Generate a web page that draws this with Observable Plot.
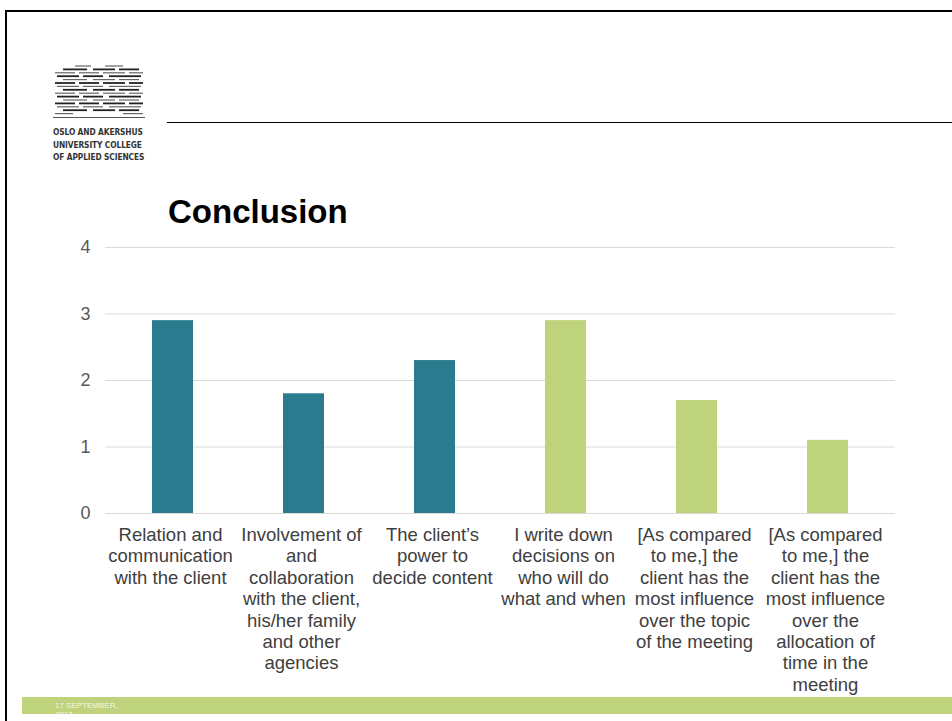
<!DOCTYPE html>
<html>
<head>
<meta charset="utf-8">
<script src="https://cdn.jsdelivr.net/npm/d3@7"></script>
<script src="https://cdn.jsdelivr.net/npm/@observablehq/plot@0.6"></script>
<style>
  html, body { margin: 0; padding: 0; background: #fff; }
  #slide { position: relative; width: 952px; height: 721px; overflow: hidden; background: #fff; font-family: "Liberation Sans", Arial, sans-serif; }
  #topline { position: absolute; left: 5px; top: 10px; width: 947px; height: 2px; background: #000; }
  #leftline { position: absolute; left: 5px; top: 10px; width: 2px; height: 711px; background: #000; }
  #rule { position: absolute; left: 167px; top: 122px; width: 785px; height: 1px; background: #000; }
  #title { position: absolute; left: 168px; top: 192px; font-size: 33px; font-weight: bold; color: #000; line-height: 40px; }
  #logo { position: absolute; left: 53px; top: 64px; }
  #logotext { position: absolute; left: 53px; top: 126px; font-size: 8.3px; font-weight: bold; color: #333; line-height: 12.5px; letter-spacing: -0.1px; font-family: "Liberation Sans Narrow", "DejaVu Sans Condensed", sans-serif; }
  #footer { position: absolute; left: 22px; top: 697px; width: 930px; height: 17px; background: #bfd27c; overflow: hidden; }
  #footer span { position: absolute; left: 33px; top: 4px; font-size: 8px; color: #f4f7e6; line-height: 9px; }
  #chart { position: absolute; left: 0; top: 230px; }
</style>
</head>
<body>
<div id="slide">
  <div id="topline"></div>
  <div id="leftline"></div>
  <div id="rule"></div>
  <svg id="logo" width="92" height="56" viewBox="0 0 92 56"></svg>
  <div id="logotext">OSLO AND AKERSHUS<br>UNIVERSITY COLLEGE<br>OF APPLIED SCIENCES</div>
  <div id="title">Conclusion</div>
  <div id="chart"></div>
  <div id="footer"><span>17 SEPTEMBER,<br>2017</span></div>
</div>
<script>
// ---- data ----
const categories = [
  "Relation and communication with the client",
  "Involvement of and collaboration with the client, his/her family and other agencies",
  "The client’s power to decide content",
  "I write down decisions on who will do what and when",
  "[As compared to me,] the client has the most influence over the topic of the meeting",
  "[As compared to me,] the client has the most influence over the allocation of time in the meeting"
];
const tickLabels = [
  "Relation and\ncommunication\nwith the client",
  "Involvement of\nand\ncollaboration\nwith the client,\nhis/her family\nand other\nagencies",
  "The client’s\npower to\ndecide content",
  "I write down\ndecisions on\nwho will do\nwhat and when",
  "[As compared\nto me,] the\nclient has the\nmost influence\nover the topic\nof the meeting",
  "[As compared\nto me,] the\nclient has the\nmost influence\nover the\nallocation of\ntime in the\nmeeting"
];
const values = [2.9, 1.8, 2.3, 2.9, 1.7, 1.1];
const groups = ["A", "A", "A", "B", "B", "B"];
const groupColors = ["#2a7b8e", "#bfd27c"];
const yTicks = [0, 1, 2, 3, 4];

const data = categories.map((c, i) => ({category: c, value: values[i], group: groups[i]}));
const labelOf = new Map(categories.map((c, i) => [c, tickLabels[i]]));

// ---- logo stripes (decorative) ----
(function () {
  const svg = d3.select("#logo");
  const rows = 15;
  for (let r = 0; r < rows; r++) {
    const y = 2 + r * 3.4;
    const dark = r % 2 === 1;
    const segs = r === 0 ? [[22, 38], [52, 70]]
      : r === rows - 1 ? [[2, 20], [70, 90]]
      : r % 3 === 0 ? [[4, 26], [30, 50], [56, 88]]
      : r % 3 === 1 ? [[10, 34], [40, 62], [66, 86]]
      : [[2, 22], [26, 46], [50, 72], [76, 90]];
    segs.forEach(([a, b]) => svg.append("line")
      .attr("x1", a).attr("x2", b).attr("y1", y).attr("y2", y)
      .attr("stroke", dark ? "#222" : "#666").attr("stroke-width", dark ? 1.8 : 1.2));
  }
  svg.append("line").attr("x1", 0).attr("x2", 92).attr("y1", 53.5).attr("y2", 53.5)
    .attr("stroke", "#555").attr("stroke-width", 1);
})();

// ---- chart ----
const chart = Plot.plot({
  width: 952,
  height: 470,
  marginLeft: 105,
  marginRight: 57,
  marginTop: 17,
  marginBottom: 187,
  style: {fontFamily: "'Liberation Sans', Arial, sans-serif", background: "transparent"},
  x: {domain: categories, paddingInner: 0.69, paddingOuter: 0.345, label: null},
  y: {domain: [0, 4], ticks: yTicks, label: null},
  color: {domain: ["A", "B"], range: groupColors},
  marks: [
    Plot.gridY(yTicks, {stroke: "#d9d9d9", strokeOpacity: 1, strokeWidth: 1}),
    Plot.barY(data, {x: "category", y: "value", fill: "group"}),
    Plot.axisY(yTicks, {tickSize: 0, tickPadding: 15, fontSize: 18, fill: "#595959", label: null, tickFormat: d => String(d)}),
    Plot.axisX({tickSize: 0, tickPadding: 12, dx: -2.5, fontSize: 18.5, lineHeight: 1.16, fill: "#404040", label: null, tickFormat: d => labelOf.get(d)}),
    Plot.ruleY([0], {stroke: "#d9d9d9", strokeWidth: 1})
  ]
});
document.getElementById("chart").appendChild(chart);
</script>
</body>
</html>
